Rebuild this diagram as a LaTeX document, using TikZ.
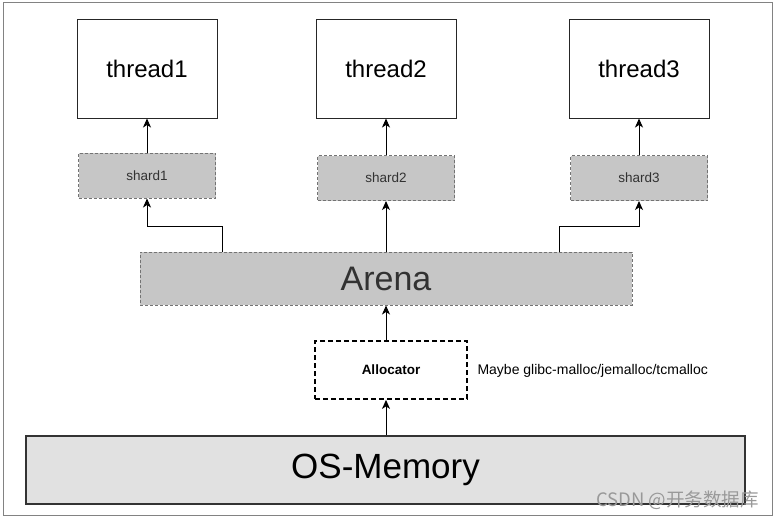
\documentclass[tikz,border=0pt]{standalone}
\usepackage{fontspec}
\setmainfont{Liberation Sans}
\newfontfamily\cjk{Noto Sans CJK SC}
\usetikzlibrary{arrows.meta}
\definecolor{shardfill}{RGB}{198,198,198}
\definecolor{osfill}{RGB}{225,225,225}
\definecolor{dashgray}{RGB}{115,115,115}
\definecolor{frame}{RGB}{130,130,130}
\definecolor{txtgray}{RGB}{50,50,50}
\tikzset{
  threadbox/.style={draw=black!85, line width=1pt, fill=white, minimum width=140pt, minimum height=99pt, inner sep=0pt, font=\fontsize{24}{27}\selectfont},
  shardbox/.style={draw=dashgray, dash pattern=on 3pt off 2pt, line width=1pt, fill=shardfill, minimum width=137pt, minimum height=45pt, inner sep=0pt, text=txtgray, font=\fontsize{13.5}{15}\selectfont},
  arenabox/.style={draw=dashgray, dash pattern=on 3pt off 2pt, line width=1pt, fill=shardfill, minimum width=492pt, minimum height=53pt, inner sep=0pt, text=txtgray, font=\fontsize{34}{37}\selectfont},
  allocbox/.style={draw=black, dash pattern=on 5pt off 3pt, line width=1.8pt, fill=white, minimum width=152pt, minimum height=58pt, inner sep=0pt, font=\bfseries\fontsize{13.5}{15}\selectfont},
  osbox/.style={draw=black!80, line width=1.5pt, fill=osfill, minimum width=719pt, minimum height=68pt, inner sep=0pt, font=\fontsize{35}{38}\selectfont},
  arr/.style={draw=black, line width=1pt, -{Stealth[length=9pt,width=8pt,inset=2.5pt]}},
}
\begin{document}
\begin{tikzpicture}[x=1pt,y=-1pt]
\useasboundingbox (0,0) rectangle (775,520);
\draw[frame, line width=1pt] (3,2) rectangle (772,515);

\node[threadbox] (t1) at (147,68.5) {thread1};
\node[threadbox] (t2) at (386,68.5) {thread2};
\node[threadbox] (t3) at (639,68.5) {thread3};

\node[shardbox] (s1) at (147,175.5) {shard1};
\node[shardbox] (s2) at (386,178) {shard2};
\node[shardbox] (s3) at (639,178) {shard3};

\node[arenabox] (arena) at (386,278.5) {Arena};
\node[allocbox] (alloc) at (391,370) {Allocator};
\node[anchor=west, font=\fontsize{14}{16}\selectfont] (maybe) at (474,371) {Maybe glibc-malloc/jemalloc/tcmalloc};
\node[osbox] (os) at (385.5,470) {OS-Memory};

\draw[arr] (s1.north) -- (t1.south);
\draw[arr] (s2.north) -- (t2.south);
\draw[arr] (s3.north) -- (t3.south);

\draw[arr] (arena.north -| 222,0) -- (222,226) -| (s1.south);
\draw[arr] (arena.north) -- (s2.south);
\draw[arr] (arena.north -| 559,0) -- (559,226) -| (s3.south);

\draw[arr] (alloc.north -| arena.south) -- (arena.south);
\draw[arr] (os.north -| arena.south) -- (alloc.south -| arena.south);

\node[anchor=south east, inner sep=0pt, text=black!40, font=\cjk\fontsize{18.5}{20}\selectfont] (wm) at (759,510) {CSDN @开务数据库};
\end{tikzpicture}
\end{document}
